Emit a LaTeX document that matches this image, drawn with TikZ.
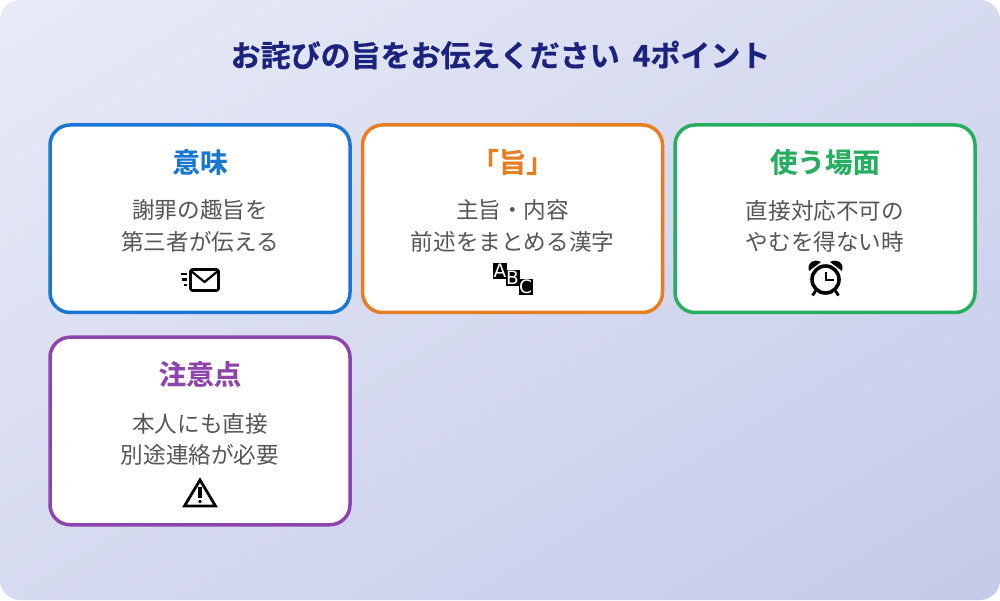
\documentclass[tikz,border=0pt]{standalone}
\usepackage{fontspec}
\setmainfont{Noto Sans CJK JP}
\newfontfamily\cjkb[FakeBold=0.6]{Noto Sans CJK JP Bold}
\newfontfamily\cjkh[FakeBold=0.3]{Noto Sans CJK JP Bold}
\newfontfamily\ltr{DejaVu Sans}
\definecolor{bgA}{HTML}{E8EAF6}
\definecolor{bgB}{HTML}{C5CAE9}
\definecolor{ttl}{HTML}{1A237E}
\definecolor{cblue}{HTML}{1976D2}
\definecolor{corange}{HTML}{E67E22}
\definecolor{cgreen}{HTML}{27AE60}
\definecolor{cpurple}{HTML}{8E44AD}
\definecolor{body}{HTML}{555555}
\tikzset{x=1pt,y=1pt,
  card/.style={draw=#1,line width=3.5pt,fill=white,rounded corners=20pt,minimum width=300pt,minimum height=187.5pt,inner sep=0pt},
  head/.style={font=\cjkh\fontsize{27.5}{27.5}\selectfont,inner sep=0pt},
  bodytext/.style={font=\fontsize{22.6}{31.2}\selectfont,text=body,align=center,inner sep=0pt},
  iconline/.style={draw=black,line width=2.6pt,line cap=round,line join=round},
  abc/.style={fill=black,text=white,font=\ltr\fontsize{18.5}{18.5}\selectfont,inner sep=0pt,minimum width=14pt,minimum height=16.5pt,text height=13pt,text depth=0pt}}
\begin{document}
\begin{tikzpicture}
\useasboundingbox (0,0) rectangle (1000,600);
\begin{scope}
\clip[rounded corners=20pt] (0,0) rectangle (1000,600);
\begin{scope}[transform canvas={rotate around={-59.04:(0,600)}}]
\shade[left color=bgA,right color=bgB] (0,-1000) rectangle (1029,2000);
\end{scope}
\end{scope}
\node[font=\cjkb\fontsize{30}{30}\selectfont,text=ttl,inner sep=0pt] (title) at (500.5,545) {お詫びの旨をお伝えください\hspace{13pt}4ポイント};
\node[card=cblue] (c1) at (200,381.25) {};
\node[card=corange] (c2) at (512.5,381.25) {};
\node[card=cgreen] (c3) at (825,381.25) {};
\node[card=cpurple] (c4) at (200,169) {};
\node[head,text=cblue] (h1) at (200,438) {意味};
\node[head,text=corange] (h2) at (512.5,438) {「旨」};
\node[head,text=cgreen] (h3) at (825,438) {使う場面};
\node[head,text=cpurple] (h4) at (200,226) {注意点};
\node[bodytext] (b1) at (200,374) {謝罪の趣旨を\\第三者が伝える};
\node[bodytext] (b2) at (512.5,374) {主旨・内容\\前述をまとめる漢字};
\node[bodytext] (b3) at (825,374) {直接対応不可の\\やむを得ない時};
\node[bodytext] (b4) at (200,161) {本人にも直接\\別途連絡が必要};
% icons, in image coordinates (y downwards)
\begin{scope}[yscale=-1,yshift=-600pt]
% envelope
\draw[iconline,rounded corners=1.5pt] (190.5,269.5) rectangle (218.5,290.5);
\draw[iconline,line width=2.2pt] (191,271) -- (204.5,282) -- (218,271);
\draw[line width=2.2pt] (180.5,274) -- (187,274);
\draw[line width=2.2pt] (182,279.5) -- (187,279.5);
\draw[line width=2.2pt] (184,285) -- (187,285);
% ABC
\node[abc] (la) at (500,271) {A};
\node[abc] (lb) at (512.5,278) {B};
\node[abc] (lc) at (525.5,287) {C};
% clock
\draw[line width=3.6pt] (825.5,279.5) circle (13.5);
\draw[iconline,line width=2.8pt,line cap=butt,line join=miter] (826,272.5) -- (826,280) -- (833.5,280);
\fill (809,271) .. controls (806.5,262) and (814,258.5) .. (821,262) -- cycle;
\fill (842,271) .. controls (844.5,262) and (837,258.5) .. (830,262) -- cycle;
\draw[line width=2.8pt] (815.5,291) -- (812.5,295.5);
\draw[line width=2.8pt] (835.5,291) -- (838.5,295.5);
% warning
\draw[iconline,line width=2.8pt,line join=miter] (200,480) -- (215.5,506) -- (184.5,506) -- cycle;
\draw[line width=3.4pt] (200,487) -- (200,497.5);
\fill (200,501.5) circle (1.9);
\end{scope}
\end{tikzpicture}
\end{document}
